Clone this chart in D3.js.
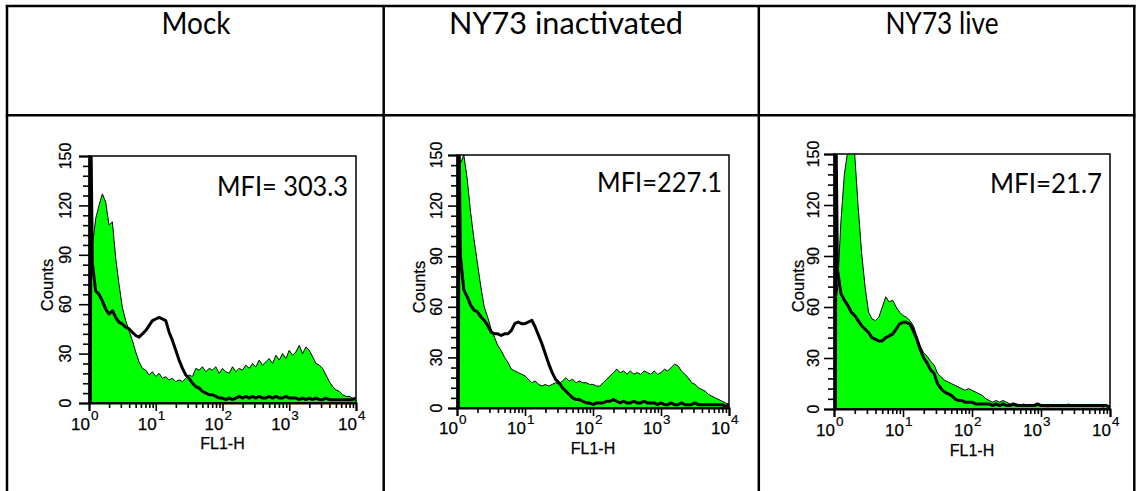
<!DOCTYPE html>
<html>
<head>
<meta charset="utf-8">
<script src="https://cdn.jsdelivr.net/npm/d3@7"></script>
<style>
  html, body { margin: 0; padding: 0; background: #fff; }
  svg { display: block; }
</style>
</head>
<body>
<svg id="chart" width="1136" height="491"></svg>
<script>
// ---------------- DATA ----------------
const panelTitles = ["Mock", "NY73 inactivated", "NY73 live"];
const mfiLabels = ["MFI= 303.3", "MFI=227.1", "MFI=21.7"];
const yTickValues = [0, 30, 60, 90, 120, 150];
const xTickExponents = [0, 1, 2, 3, 4];
const yAxisTitle = "Counts";
const xAxisTitle = "FL1-H";

// channel positions (log10 of FL1-H)
const logFL1 = [0.00, 0.02, 0.03,
  0.05, 0.10, 0.15, 0.20, 0.25, 0.30, 0.35, 0.40, 0.45, 0.50, 0.55, 0.60, 0.65, 0.70, 0.75, 0.80, 0.85, 0.90, 0.95, 1.00,
  1.05, 1.10, 1.15, 1.20, 1.25, 1.30, 1.35, 1.40, 1.45, 1.50, 1.55, 1.60, 1.65, 1.70, 1.75, 1.80, 1.85, 1.90, 1.95, 2.00,
  2.05, 2.10, 2.15, 2.20, 2.25, 2.30, 2.35, 2.40, 2.45, 2.50, 2.55, 2.60, 2.65, 2.70, 2.75, 2.80, 2.85, 2.90, 2.95, 3.00,
  3.05, 3.10, 3.15, 3.20, 3.25, 3.30, 3.35, 3.40, 3.45, 3.50, 3.55, 3.60, 3.65, 3.70, 3.75, 3.80, 3.85, 3.90, 3.95, 4.00];

// Mock
const mockGreen = [80, 85, 90,
  95, 112, 120, 127, 122, 108, 110, 88, 72, 58, 50, 44, 38, 31, 25, 21, 20, 17, 19, 16,
  18, 15, 16, 14, 15, 13, 14, 13, 15, 17, 16, 21, 20, 22, 19, 21, 20, 22, 18, 21,
  19, 18, 22, 19, 21, 20, 23, 21, 24, 22, 26, 23, 25, 27, 24, 29, 26, 30, 27, 32,
  29, 31, 35, 30, 34, 32, 28, 24, 23, 21, 17, 13, 10, 8, 7, 5, 4, 4, 3, 3];
const mockBlack = [0, 0, 160,
  85, 68, 66, 62, 57, 54, 56, 52, 49, 48, 46, 45, 43, 41, 40, 42, 44, 47, 50, 51,
  52, 51, 50, 43, 38, 32, 26, 21, 17, 15, 12, 10, 9, 7, 6, 5, 5, 4, 3, 3,
  2, 3, 2, 3, 4, 3, 4, 3, 4, 3, 4, 3, 3, 4, 3, 4, 3, 3, 4, 3,
  3, 3, 2, 3, 2, 3, 2, 3, 2, 2, 3, 2, 2, 2, 2, 2, 2, 2, 2, 3];

// NY73 inactivated
const inactGreen = [160, 160, 150,
  145, 150, 136, 116, 100, 86, 72, 60, 54, 47, 42, 37, 34, 30, 27, 23, 22, 21, 20, 19,
  17, 15, 16, 14, 13, 14, 13, 14, 15, 14, 16, 18, 16, 17, 15, 16, 15, 15, 14, 14,
  13, 13, 15, 17, 19, 21, 23, 21, 22, 20, 22, 20, 21, 20, 22, 21, 20, 22, 20, 21,
  23, 22, 24, 26, 25, 22, 20, 18, 15, 14, 12, 11, 10, 8, 7, 6, 5, 4, 3, 2];
const inactBlack = [0, 0, 160,
  90, 70, 66, 61, 58, 57, 54, 52, 49, 45, 44, 44, 43, 44, 44, 46, 50, 51, 50, 50,
  51, 52, 48, 43, 38, 32, 26, 21, 17, 15, 12, 10, 8, 6, 5, 5, 4, 3, 3, 2,
  3, 3, 3, 4, 4, 5, 4, 3, 4, 3, 3, 4, 3, 3, 4, 3, 3, 3, 2, 3,
  2, 2, 3, 2, 2, 3, 2, 2, 2, 3, 2, 2, 2, 2, 2, 2, 2, 2, 1, 2];

// NY73 live
const liveGreen = [60, 62, 65,
  70, 110, 138, 152, 155, 150, 119, 92, 72, 57, 53, 52, 54, 60, 66, 63, 64, 60, 57, 55,
  54, 52, 49, 43, 37, 33, 31, 28, 26, 21, 19, 17, 16, 15, 14, 13, 12, 11, 12, 11,
  10, 9, 8, 6, 5, 4, 5, 4, 5, 4, 3, 3, 3, 2, 3, 2, 2, 2, 2, 2,
  2, 1, 2, 2, 2, 2, 2, 3, 2, 2, 2, 2, 2, 2, 2, 2, 2, 1, 2, 1];
const liveBlack = [0, 0, 160,
  82, 68, 64, 61, 57, 55, 52, 49, 47, 45, 42, 41, 40, 40, 42, 43, 44, 47, 50, 51,
  51, 50, 46, 41, 35, 30, 27, 23, 21, 15, 12, 10, 9, 8, 6, 5, 5, 4, 4, 4,
  3, 3, 3, 3, 3, 2, 3, 2, 3, 2, 2, 3, 2, 2, 2, 2, 2, 2, 3, 2,
  2, 2, 2, 2, 2, 2, 2, 2, 2, 2, 2, 2, 2, 2, 2, 2, 2, 2, 2, 1];

const greenSeries = [mockGreen, inactGreen, liveGreen];
const blackSeries = [mockBlack, inactBlack, liveBlack];

// ---------------- LAYOUT ----------------
const layout = [
  {x0: 89, x1: 356, y0: 156, y1: 403, titleX: 196, titleW: 69, mfiX: 348, mfiY: 196, mfiW: 131,
   yLab: 18, yTick: 10, countsOff: 36, countsY: 285, xLab: 27, flY: 46},
  {x0: 457, x1: 729, y0: 155, y1: 408, titleX: 566, titleW: 234, mfiX: 722, mfiY: 192, mfiW: 125,
   yLab: 15, yTick: 9, countsOff: 32, countsY: 287, xLab: 26, flY: 46},
  {x0: 834, x1: 1110, y0: 154, y1: 409, titleX: 942, titleW: 113, mfiX: 1102, mfiY: 193, mfiW: 112,
   yLab: 15, yTick: 10, countsOff: 30, countsY: 286, xLab: 27, flY: 47}
];

const svg = d3.select("#chart");

// ---------------- TABLE ----------------
const tbl = svg.append("g").attr("stroke", "#000").attr("stroke-width", 2.5);
tbl.append("line").attr("x1", 7).attr("x2", 7).attr("y1", 5).attr("y2", 491);
tbl.append("line").attr("x1", 1134.3).attr("x2", 1134.3).attr("y1", 5).attr("y2", 491);
tbl.append("line").attr("x1", 5.8).attr("x2", 1135.5).attr("y1", 6).attr("y2", 6);
tbl.append("line").attr("x1", 5.8).attr("x2", 1135.5).attr("y1", 115.3).attr("y2", 115.3);
tbl.append("line").attr("x1", 383.7).attr("x2", 383.7).attr("y1", 5).attr("y2", 491);
tbl.append("line").attr("x1", 758.8).attr("x2", 758.8).attr("y1", 5).attr("y2", 491);

const tickFont = "'Liberation Sans', Arial, sans-serif";
const textFont = "Lato, 'Noto Sans', sans-serif";

layout.forEach((L, i) => {
  // header
  svg.append("text")
    .attr("x", L.titleX - L.titleW / 2).attr("y", 34)
    .attr("font-family", textFont).attr("font-size", 30.5)
    .attr("textLength", L.titleW).attr("lengthAdjust", "spacingAndGlyphs")
    .attr("fill", "#000")
    .text(panelTitles[i]);

  const x = d3.scaleLog().domain([1, 1e4]).range([L.x0, L.x1]);
  const y = d3.scaleLinear().domain([0, 150]).range([L.y1, L.y0]);

  const g = svg.append("g");
  const clipId = "clip" + i;
  g.append("clipPath").attr("id", clipId)
    .append("rect").attr("x", L.x0).attr("y", L.y0)
    .attr("width", L.x1 - L.x0).attr("height", L.y1 - L.y0);

  const pts = (vals) => logFL1.map((lv, k) => ({fl: Math.pow(10, lv), c: vals[k]}));

  const area = d3.area().x(d => x(d.fl)).y0(y(0)).y1(d => y(d.c));
  const line = d3.line().x(d => x(d.fl)).y(d => y(d.c));

  const plot = g.append("g").attr("clip-path", `url(#${clipId})`);
  plot.append("path").datum(pts(greenSeries[i]))
    .attr("d", area).attr("fill", "#00ff00")
    .attr("stroke", "#000").attr("stroke-width", 1).attr("stroke-linejoin", "miter");
  plot.append("path").datum(pts(blackSeries[i]))
    .attr("d", line).attr("fill", "none")
    .attr("stroke", "#000").attr("stroke-width", 3).attr("stroke-linejoin", "round");

  // box (top/right)
  g.append("rect").attr("x", L.x0).attr("y", L.y0)
    .attr("width", L.x1 - L.x0).attr("height", L.y1 - L.y0)
    .attr("fill", "none").attr("stroke", "#000").attr("stroke-width", 1.5);

  // Y axis
  const yAxis = d3.axisLeft(y).tickValues(yTickValues).tickSize(L.yTick).tickFormat("");
  const yg = g.append("g").attr("transform", `translate(${L.x0},0)`).call(yAxis);
  yg.select(".domain").attr("stroke-width", 2);
  yg.selectAll(".tick line").attr("stroke-width", 1.6);
  const yMinor = d3.axisLeft(y).tickValues(d3.range(0, 151, 6).filter(v => v % 30 !== 0))
    .tickSize(6).tickFormat("");
  const ym = g.append("g").attr("transform", `translate(${L.x0},0)`).call(yMinor);
  ym.select(".domain").remove();
  ym.selectAll(".tick line").attr("stroke-width", 1.6);

  yTickValues.forEach(v => {
    g.append("text")
      .attr("transform", `translate(${L.x0 - L.yLab},${y(v)}) rotate(-90)`)
      .attr("text-anchor", "middle")
      .attr("font-family", tickFont).attr("font-size", 16)
      .attr("stroke", "#000").attr("stroke-width", 0.25)
      .text(v);
  });
  g.append("text")
    .attr("transform", `translate(${L.x0 - L.countsOff},${L.countsY}) rotate(-90)`)
    .attr("text-anchor", "middle")
    .attr("font-family", tickFont).attr("font-size", 16.5)
    .attr("stroke", "#000").attr("stroke-width", 0.25)
    .text(yAxisTitle);

  // X axis
  const decades = xTickExponents.map(e => Math.pow(10, e));
  const xAxis = d3.axisBottom(x).tickValues(decades).tickSize(8).tickFormat("");
  const xg = g.append("g").attr("transform", `translate(0,${L.y1})`).call(xAxis);
  xg.select(".domain").attr("stroke-width", 2);
  xg.selectAll(".tick line").attr("stroke-width", 1.6);
  const minors = [];
  decades.slice(0, -1).forEach(d => { for (let m = 2; m <= 9; m++) minors.push(d * m); });
  const xMinor = d3.axisBottom(x).tickValues(minors).tickSize(5).tickFormat("");
  const xm = g.append("g").attr("transform", `translate(0,${L.y1})`).call(xMinor);
  xm.select(".domain").remove();
  xm.selectAll(".tick line").attr("stroke-width", 1.6);

  xTickExponents.forEach(e => {
    const px = x(Math.pow(10, e));
    g.append("text")
      .attr("x", px + 1).attr("y", L.y1 + L.xLab)
      .attr("text-anchor", "end")
      .attr("font-family", tickFont).attr("font-size", 17)
      .attr("stroke", "#000").attr("stroke-width", 0.25)
      .text("10");
    g.append("text")
      .attr("x", px + 2).attr("y", L.y1 + L.xLab - 10)
      .attr("text-anchor", "start")
      .attr("font-family", tickFont).attr("font-size", 13.5)
      .attr("stroke", "#000").attr("stroke-width", 0.2)
      .text(e);
  });
  g.append("text")
    .attr("x", (L.x0 + L.x1) / 2).attr("y", L.y1 + L.flY)
    .attr("text-anchor", "middle")
    .attr("font-family", tickFont).attr("font-size", 16)
    .attr("stroke", "#000").attr("stroke-width", 0.25)
    .text(xAxisTitle);

  // MFI label
  svg.append("text")
    .attr("x", L.mfiX - L.mfiW).attr("y", L.mfiY)
    .attr("font-family", textFont).attr("font-size", 26)
    .attr("textLength", L.mfiW).attr("lengthAdjust", "spacingAndGlyphs")
    .text(mfiLabels[i]);
});
</script>
</body>
</html>
